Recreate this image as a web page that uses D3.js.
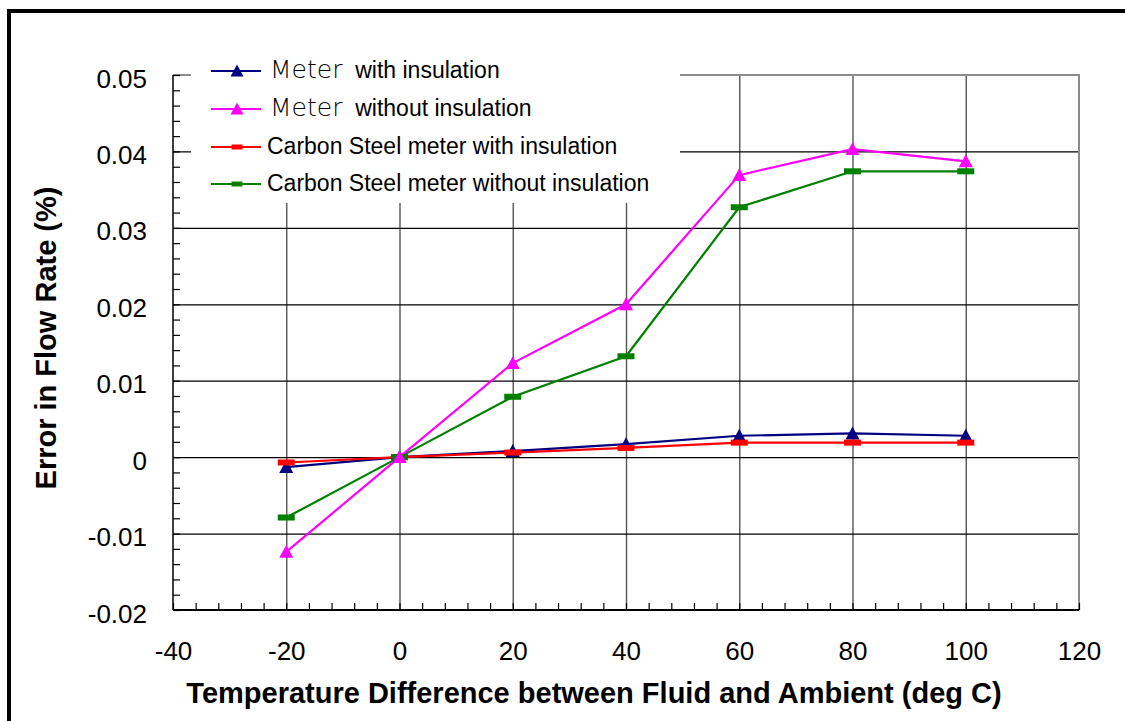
<!DOCTYPE html>
<html>
<head>
<meta charset="utf-8">
<script src="https://cdn.jsdelivr.net/npm/d3@7"></script>
<style>
  body { margin: 0; background: #fff; }
  text { font-family: 'Liberation Sans', Arial, sans-serif; }
</style>
</head>
<body>
<div id="chart"></div>
<script>
// data
const temps = [-20, 0, 20, 40, 60, 80, 100]
const meterWith = [-0.0013, 0, 0.0008, 0.0017, 0.0028, 0.0031, 0.0028]
const meterWithout = [-0.0124, 0, 0.0123, 0.02, 0.0369, 0.0403, 0.0387]
const steelWith = [-0.0007, 0, 0.0006, 0.0012, 0.0019, 0.0019, 0.0019]
const steelWithout = [-0.0079, 0, 0.0079, 0.0132, 0.0327, 0.0374, 0.0374]

const seriesNames = [
  ['Meter', '  with insulation'],
  ['Meter', '  without insulation'],
  ['Carbon Steel', ' meter with insulation'],
  ['Carbon Steel', ' meter without insulation']
]
const seriesColors = ['#000080', '#ff00ff', '#ff0000', '#008000']
const seriesMarkers = ['triangle', 'triangle', 'dash', 'dash']

const xTicks = [-40, -20, 0, 20, 40, 60, 80, 100, 120]
const xTickLabels = ['-40', '-20', '0', '20', '40', '60', '80', '100', '120']
const yTicks = [-0.02, -0.01, 0, 0.01, 0.02, 0.03, 0.04, 0.05]
const yTickLabels = ['-0.02', '-0.01', '0', '0.01', '0.02', '0.03', '0.04', '0.05']

const margin = { top: 75, left: 173, right: 46, bottom: 111 }
const totalWidth = 1125
const totalHeight = 721
const width = totalWidth - margin.left - margin.right
const height = totalHeight - margin.top - margin.bottom

const root = d3
  .select('#chart')
  .append('svg')
  .attr('width', totalWidth)
  .attr('height', totalHeight)

// outer frame (only top and left edges are in the picture)
root
  .append('rect')
  .attr('x', 9)
  .attr('y', 11)
  .attr('width', 1200)
  .attr('height', 800)
  .attr('fill', 'none')
  .attr('stroke', '#000')
  .attr('stroke-width', 4)

const svg = root
  .append('g')
  .attr('transform', 'translate(' + margin.left + ',' + margin.top + ')')

const xPositionScale = d3.scaleLinear().domain([-40, 120]).range([0, width])
const yPositionScale = d3.scaleLinear().domain([-0.02, 0.05]).range([height, 0])

// gridlines
svg
  .append('g')
  .attr('class', 'grid-x')
  .attr('transform', 'translate(0,' + height + ')')
  .call(d3.axisBottom(xPositionScale).tickValues(xTicks.slice(1, -1)).tickSize(-height).tickFormat(''))
  .call(g => g.select('.domain').remove())
  .call(g => g.selectAll('line').attr('stroke', '#555').attr('stroke-width', 1.4))

svg
  .append('g')
  .attr('class', 'grid-y')
  .call(d3.axisLeft(yPositionScale).tickValues(yTicks.slice(1, -1)).tickSize(-width).tickFormat(''))
  .call(g => g.select('.domain').remove())
  .call(g => g.selectAll('line').attr('stroke', '#000').attr('stroke-width', 1.2))

// plot border top and right
svg
  .append('path')
  .attr('d', 'M0,0H' + width + 'V' + height)
  .attr('fill', 'none')
  .attr('stroke', '#8c8c8c')
  .attr('stroke-width', 2)

// minor ticks pointing inward
const xMinor = d3.range(-40, 121, 4)
const yMinor = d3.range(-10, 26).map(i => i * 0.002)

svg
  .append('g')
  .attr('class', 'x-minor')
  .attr('transform', 'translate(0,' + height + ')')
  .call(d3.axisBottom(xPositionScale).tickValues(xMinor).tickSize(-7).tickFormat(''))
  .call(g => g.select('.domain').remove())
  .call(g => g.selectAll('line').attr('stroke', '#000').attr('stroke-width', 1.2))

svg
  .append('g')
  .attr('class', 'y-minor')
  .call(d3.axisLeft(yPositionScale).tickValues(yMinor).tickSize(-7).tickFormat(''))
  .call(g => g.select('.domain').remove())
  .call(g => g.selectAll('line').attr('stroke', '#000').attr('stroke-width', 1.2))

// axis lines
svg
  .append('line')
  .attr('x1', 0)
  .attr('x2', 0)
  .attr('y1', 0)
  .attr('y2', height)
  .attr('stroke', '#000')
  .attr('stroke-width', 1.5)

svg
  .append('line')
  .attr('x1', 0)
  .attr('x2', width)
  .attr('y1', height)
  .attr('y2', height)
  .attr('stroke', '#000')
  .attr('stroke-width', 2)

// tick labels
const xAxis = d3
  .axisBottom(xPositionScale)
  .tickValues(xTicks)
  .tickSize(0)
  .tickPadding(50)
  .tickFormat((d, i) => xTickLabels[i])
svg
  .append('g')
  .attr('class', 'axis x-axis')
  .attr('transform', 'translate(0,' + height + ')')
  .call(xAxis)
  .call(g => g.select('.domain').remove())
  .call(g => g.selectAll('text').attr('font-size', 26).attr('fill', '#000').attr('dy', 0)
    .attr('font-family', "'Liberation Sans', Arial, sans-serif"))

const yAxis = d3
  .axisLeft(yPositionScale)
  .tickValues(yTicks)
  .tickSize(0)
  .tickPadding(26)
  .tickFormat((d, i) => yTickLabels[i])
svg
  .append('g')
  .attr('class', 'axis y-axis')
  .call(yAxis)
  .call(g => g.select('.domain').remove())
  .call(g => g.selectAll('text').attr('font-size', 26).attr('fill', '#000').attr('dy', 12)
    .attr('font-family', "'Liberation Sans', Arial, sans-serif"))

// axis titles
root
  .append('text')
  .attr('x', 594)
  .attr('y', 703)
  .attr('text-anchor', 'middle')
  .attr('font-size', 29)
  .attr('font-weight', 'bold')
  .text('Temperature Difference between Fluid and Ambient (deg C)')

root
  .append('text')
  .attr('transform', 'translate(56,338) rotate(-90)')
  .attr('text-anchor', 'middle')
  .attr('font-size', 29)
  .attr('font-weight', 'bold')
  .text('Error in Flow Rate (%)')

// legend background hides the grid behind it
svg
  .append('rect')
  .attr('x', 18)
  .attr('y', -30)
  .attr('width', 489)
  .attr('height', 158)
  .attr('fill', '#fff')

const seriesValues = [meterWith, meterWithout, steelWith, steelWithout]
const series = seriesNames.map((name, i) => ({
  name: name,
  color: seriesColors[i],
  marker: seriesMarkers[i],
  values: temps.map((t, j) => ({ temp: t, value: seriesValues[i][j] }))
}))

const line = d3
  .line()
  .x(d => xPositionScale(d.temp))
  .y(d => yPositionScale(d.value))

function markerPath(type, big) {
  if (type === 'triangle') {
    const w = big ? 7 : 6.5
    return 'M0,' + -w + 'L' + w + ',' + (w * 0.85) + 'L' + -w + ',' + (w * 0.85) + 'Z'
  }
  const w = big ? 8.5 : 5.5
  const h = big ? 3 : 2.5
  return 'M' + -w + ',' + -h + 'H' + w + 'V' + h + 'H' + -w + 'Z'
}

// draw lines in the original's stacking order
const drawOrder = [0, 2, 3, 1]
drawOrder.forEach(i => {
  const s = series[i]
  svg
    .append('path')
    .attr('class', 'series-line')
    .attr('d', line(s.values))
    .attr('fill', 'none')
    .attr('stroke', s.color)
    .attr('stroke-width', 2.2)
})

drawOrder.forEach(i => {
  const s = series[i]
  svg
    .selectAll('.marker-' + i)
    .data(s.values)
    .enter()
    .append('path')
    .attr('class', 'marker-' + i)
    .attr('transform', d => 'translate(' + xPositionScale(d.temp) + ',' + yPositionScale(d.value) + ')')
    .attr('d', markerPath(s.marker, true))
    .attr('fill', s.color)
})

// legend
const legend = root.append('g').attr('class', 'legend')
const legendRows = [71, 109, 147, 184]
series.forEach((s, i) => {
  const y = legendRows[i]
  legend
    .append('line')
    .attr('x1', 211)
    .attr('x2', 261)
    .attr('y1', y)
    .attr('y2', y)
    .attr('stroke', s.color)
    .attr('stroke-width', 2)
  legend
    .append('path')
    .attr('transform', 'translate(237,' + y + ')')
    .attr('d', markerPath(s.marker, false))
    .attr('fill', s.color)
  const t = legend
    .append('text')
    .attr('x', i < 2 ? 270 : 267)
    .attr('y', y + 7)
    .attr('font-size', 23)
    .attr('fill', '#000')
    .attr('xml:space', 'preserve')
    .style('white-space', 'pre')
  t.append('tspan')
    .attr('font-size', i < 2 ? 25 : 23)
    .attr('font-family', i < 2 ? "'DejaVu Sans', sans-serif" : null)
    .attr('font-weight', i < 2 ? 300 : null)
    .text(s.name[0])
  t.append('tspan').text(s.name[1])
})
</script>
</body>
</html>
